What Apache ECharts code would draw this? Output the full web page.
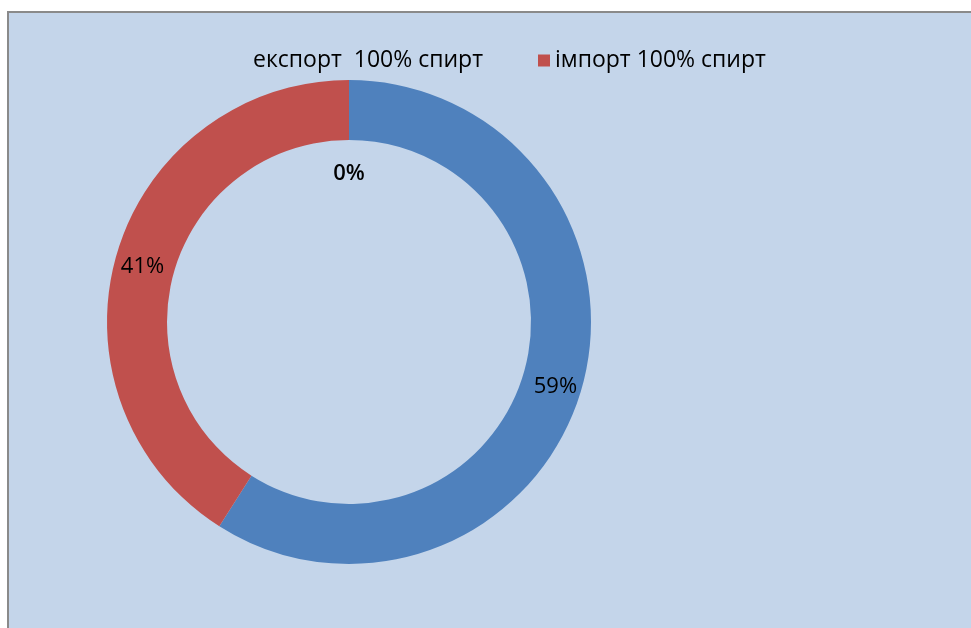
<!DOCTYPE html>
<html><head><meta charset="utf-8">
<script src="https://cdn.jsdelivr.net/npm/echarts@6/dist/echarts.min.js"></script>
<style>
html,body{margin:0;padding:0;background:#fff;width:971px;height:628px;overflow:hidden;}
#chart{position:absolute;left:7px;top:11px;width:962px;height:617px;border-left:2px solid #8a8a8a;border-top:2px solid #8a8a8a;background:#C4D5EA;}
</style></head>
<body><div id="chart"></div>
<script>
const legendNames = ['експорт  100% спирт', 'імпорт 100% спирт'];
const ringNames = ['', 'імпорт 100% спирт'];
const ringValues = [59, 41];
const zeroName = 'експорт  100% спирт';
const zeroValue = 0;
const colors = ['#4F81BD', '#C0504D'];

const chart = echarts.init(document.getElementById('chart'), null, {renderer:'canvas'});
const font = 'Open Sans';
chart.setOption({
  backgroundColor: 'transparent',
  animation: false,
  legend: {
    left: 222, top: 31,
    itemWidth: 12, itemHeight: 12, itemGap: 55,
    icon: 'rect',
    textStyle: {fontFamily: font, fontSize: 23, color: '#000'},
    data: [
      {name: legendNames[0], itemStyle: {color: 'rgba(0,0,0,0)'}},
      {name: legendNames[1], itemStyle: {color: colors[1]}}
    ],
    selectedMode: false
  },
  series: [
    {
      type: 'pie',
      center: [340, 309],
      radius: [182, 242],
      startAngle: 90,
      clockwise: true,
      silent: true,
      label: {
        position: 'inside',
        formatter: p => '{a|' + p.value + '%}',
        rich: {a: {fontFamily: font, fontSize: 22, color: '#000', padding: [10, 0, 0, 0]}}
      },
      labelLine: {show: false},
      data: ringValues.map((v, i) => ({name: ringNames[i], value: v, itemStyle: {color: colors[i]}}))
    },
    {
      type: 'pie',
      center: [340, 309],
      radius: [120, 178],
      startAngle: 90,
      clockwise: true,
      silent: true,
      label: {
        position: 'inside',
        formatter: p => '{a|' + p.value + '%}',
        rich: {a: {fontFamily: font, fontSize: 22, fontWeight: 600, color: '#000', padding: [8, 0, 0, 0]}}
      },
      labelLine: {show: false},
      data: [
        {name: zeroName, value: zeroValue, itemStyle: {color: 'rgba(0,0,0,0)'}},
        {name: 'rest', value: 100, itemStyle: {color: 'rgba(0,0,0,0)'}, label: {show: false}}
      ]
    }
  ]
});
</script></body></html>
